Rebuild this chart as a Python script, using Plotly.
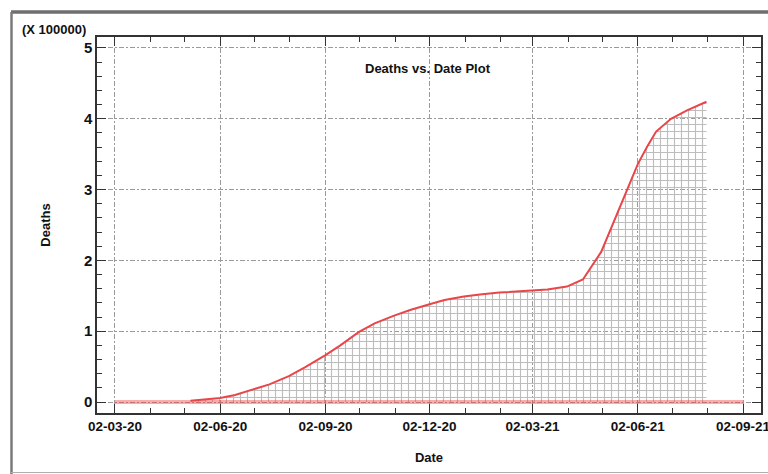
import plotly.graph_objects as go
import pandas as pd

# Cumulative deaths by date
dates = [
    "2020-05-07", "2020-05-20", "2020-06-02", "2020-06-15", "2020-07-01",
    "2020-07-15", "2020-08-01", "2020-08-15", "2020-09-02", "2020-09-15",
    "2020-10-01", "2020-10-15", "2020-11-01", "2020-11-15", "2020-12-02",
    "2020-12-15", "2021-01-01", "2021-01-15", "2021-02-01", "2021-02-15",
    "2021-03-02", "2021-03-15", "2021-04-01", "2021-04-15", "2021-05-01",
    "2021-05-15", "2021-06-02", "2021-06-10", "2021-06-18", "2021-07-01",
    "2021-07-15", "2021-08-01",
]
deaths = [
    1800, 3300, 5800, 9900, 17400,
    24900, 36500, 49000, 66300, 80000,
    98700, 111000, 122000, 130000, 138000,
    144000, 149000, 152000, 154500, 156000,
    157500, 159000, 163000, 173000, 212000,
    267000, 336000, 360000, 382000, 400000,
    412000, 424000,
]

# Baseline drawn across the tick span
baseline_dates = ["2020-03-02", "2021-09-02"]
baseline_vals = [0, 0]

scale = 100000
y_vals = [d / scale for d in deaths]

tick0 = "2020-03-02"
x_range = ["2020-02-15 08:00", "2021-09-17 16:00"]
y_range = [-0.155, 5.155]

# plot area in pixels (for placing frame/labels in paper units)
L, R, T, B = 97, 761, 37, 413
W, H = R - L, B - T


def px_x(p):
    return (p - L) / W


def px_y(p):
    return (B - p) / H


FAMILY = "Liberation Sans, Arial, sans-serif"
font_main = dict(family=FAMILY, size=13, color="#111111", weight="bold")
font_xtick = dict(family=FAMILY, size=13.5, color="#111111", weight="bold")
font_ytick = dict(family=FAMILY, size=15, color="#111111", weight="bold")

fig = go.Figure()

fig.add_trace(go.Scatter(
    x=pd.to_datetime(dates), y=y_vals,
    mode="lines",
    line=dict(color="rgb(232,70,72)", width=2),
    fill="tozeroy",
    fillcolor="rgba(255,255,255,0)",
    fillpattern=dict(shape="+", size=7, solidity=0.3, fgcolor="#bdbdbd", bgcolor="rgba(255,255,255,0)"),
    hoverinfo="skip", showlegend=False,
))

fig.add_trace(go.Scatter(
    x=pd.to_datetime(baseline_dates), y=baseline_vals,
    mode="lines",
    line=dict(color="rgba(240,70,70,0.45)", width=4),
    hoverinfo="skip", showlegend=False,
))

axis_common = dict(
    automargin=False,
    showline=True, linecolor="#333333", linewidth=1.5, mirror="allticks",
    ticks="inside", ticklen=9, tickwidth=1.3, tickcolor="#333333",
    showgrid=True, gridcolor="#9a9a9a", gridwidth=1, griddash="5px,2px,2px,2px",
    zeroline=False,
)

fig.update_xaxes(
    type="date", range=x_range, tick0=tick0, dtick="M3", tickformat="%d-%m-%y",
    tickfont=font_xtick, ticklabeloverflow="allow",
    minor=dict(dtick="M1", tick0=tick0, ticks="inside", ticklen=5, tickcolor="#333333", showgrid=False),
    title=dict(text="Date", font=font_main, standoff=20),
    **axis_common,
)
fig.update_yaxes(
    range=y_range, tick0=0, dtick=1, tickfont=font_ytick,
    minor=dict(dtick=0.2, tick0=0, ticks="inside", ticklen=5, tickcolor="#333333", showgrid=False),
    title=dict(text="Deaths", font=font_main, standoff=30),
    **axis_common,
)

# outer frame
fig.add_shape(type="line", xref="paper", yref="paper",
              x0=px_x(11), x1=px_x(790), y0=px_y(12), y1=px_y(12),
              line=dict(color="#6e6e6e", width=3.5))
fig.add_shape(type="line", xref="paper", yref="paper",
              x0=px_x(11.5), x1=px_x(11.5), y0=px_y(12), y1=px_y(474),
              line=dict(color="#7a7a7a", width=2.5))
fig.add_shape(type="line", xref="paper", yref="paper",
              x0=px_x(11), x1=px_x(790), y0=px_y(472.5), y1=px_y(472.5),
              line=dict(color="#b0b0b0", width=1))

fig.add_annotation(text="Deaths vs. Date Plot", xref="paper", yref="paper",
                   x=px_x(428), y=px_y(68), xanchor="center", yanchor="middle",
                   showarrow=False, font=font_main)
fig.add_annotation(text="(X 100000)", xref="paper", yref="paper",
                   x=px_x(54), y=px_y(29), xanchor="center", yanchor="middle",
                   showarrow=False, font=font_main)

fig.update_layout(
    template="none",
    width=768, height=474,
    margin=dict(l=L, r=768 - R, t=T, b=474 - B),
    paper_bgcolor="white", plot_bgcolor="white",
    showlegend=False,
)

fig.write_html("out.html")
